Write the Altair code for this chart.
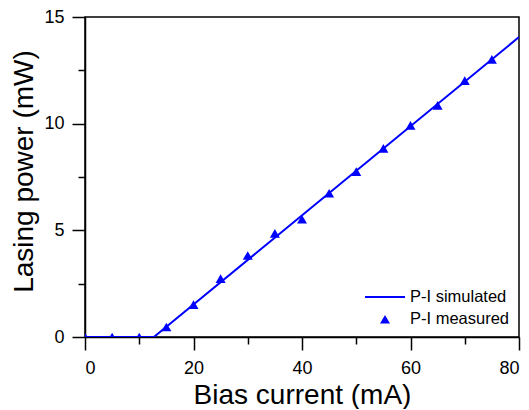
import altair as alt
import pandas as pd

# Measured P-I points (mA, mW)
current_meas = [0, 5, 10, 15, 20, 25, 30, 35, 40, 45, 50, 55, 60, 65, 70, 75]
power_meas = [0, 0, 0, 0.47, 1.52, 2.74, 3.82, 4.86, 5.52, 6.74, 7.75, 8.84, 9.92, 10.86, 12.02, 13.01]

# Simulated P-I curve
current_sim = [0, 12.7, 80]
power_sim = [0, 0, 14.06]

series_names = ["P-I simulated", "P-I measured"]

x_ticks = [0, 10, 20, 30, 40, 50, 60, 70, 80]
y_ticks = [0, 2.5, 5, 7.5, 10, 12.5, 15]

FONT = "Liberation Sans"
BLUE = "#0000FF"
LINE_SYMBOL = "M-1,-0.05H1V0.05H-1Z"

meas = pd.DataFrame({"I": current_meas, "P": power_meas, "s": series_names[1]})
sim = pd.DataFrame({"I": current_sim, "P": power_sim, "s": series_names[0]})

x_axis = alt.Axis(
    values=x_ticks, labelExpr="datum.value % 20 === 0 ? datum.label : ''",
    grid=False,
    tickSize={"condition": {"test": "datum.value % 20 === 0", "value": 13}, "value": 7},
    tickColor="black", tickWidth=1.5,
    domainColor="black", domainWidth=1.5,
    labelFont=FONT, labelFontSize=18, labelColor="black", labelPadding=9,
    title="Bias current (mA)", titleFont=FONT, titleFontSize=28,
    titleFontWeight="normal", titleColor="black", titlePadding=4,
)
y_axis = alt.Axis(
    values=y_ticks, labelExpr="datum.value % 5 === 0 ? datum.label : ''",
    grid=False,
    tickSize={"condition": {"test": "datum.value % 5 === 0", "value": 13}, "value": 7},
    tickColor="black", tickWidth=1.5,
    domainColor="black", domainWidth=1.5,
    labelFont=FONT, labelFontSize=18, labelColor="black", labelPadding=8,
    title="Lasing power (mW)", titleFont=FONT, titleFontSize=28,
    titleFontWeight="normal", titleColor="black", titlePadding=5, titleY=154,
)

xs = alt.Scale(domain=[0, 80], nice=False, zero=False)
ys = alt.Scale(domain=[0, 15], nice=False, zero=False)

line = alt.Chart(sim).mark_line(color=BLUE, strokeWidth=2, clip=True).encode(
    x=alt.X("I:Q", scale=xs, axis=x_axis),
    y=alt.Y("P:Q", scale=ys, axis=y_axis),
)

legend = alt.Legend(
    title=None, orient="none", legendX=280, legendY=260, padding=0,
    labelFont=FONT, labelFontSize=16.5, labelColor="black", labelOffset=5,
    rowPadding=5, symbolFillColor=BLUE, symbolOpacity=1, symbolStrokeWidth=0,
)

points = alt.Chart(meas).mark_point(
    filled=True, color=BLUE, opacity=1, strokeWidth=0, clip=True
).encode(
    x=alt.X("I:Q", scale=xs),
    y=alt.Y("P:Q", scale=ys),
    shape=alt.Shape("s:N", scale=alt.Scale(domain=series_names, range=[LINE_SYMBOL, "triangle-up"]), legend=legend),
    size=alt.Size("s:N", scale=alt.Scale(domain=series_names, range=[1600, 100]), legend=legend),
)

chart = alt.layer(line, points).properties(
    width=434, height=320,
    autosize=alt.AutoSizeParams(type="none"),
    padding={"left": 77, "top": 9, "right": 2, "bottom": 72},
    background="white",
).configure_view(stroke="black", strokeWidth=1.5)

chart.save("out.html", embed_options={"renderer": "svg", "actions": False})
